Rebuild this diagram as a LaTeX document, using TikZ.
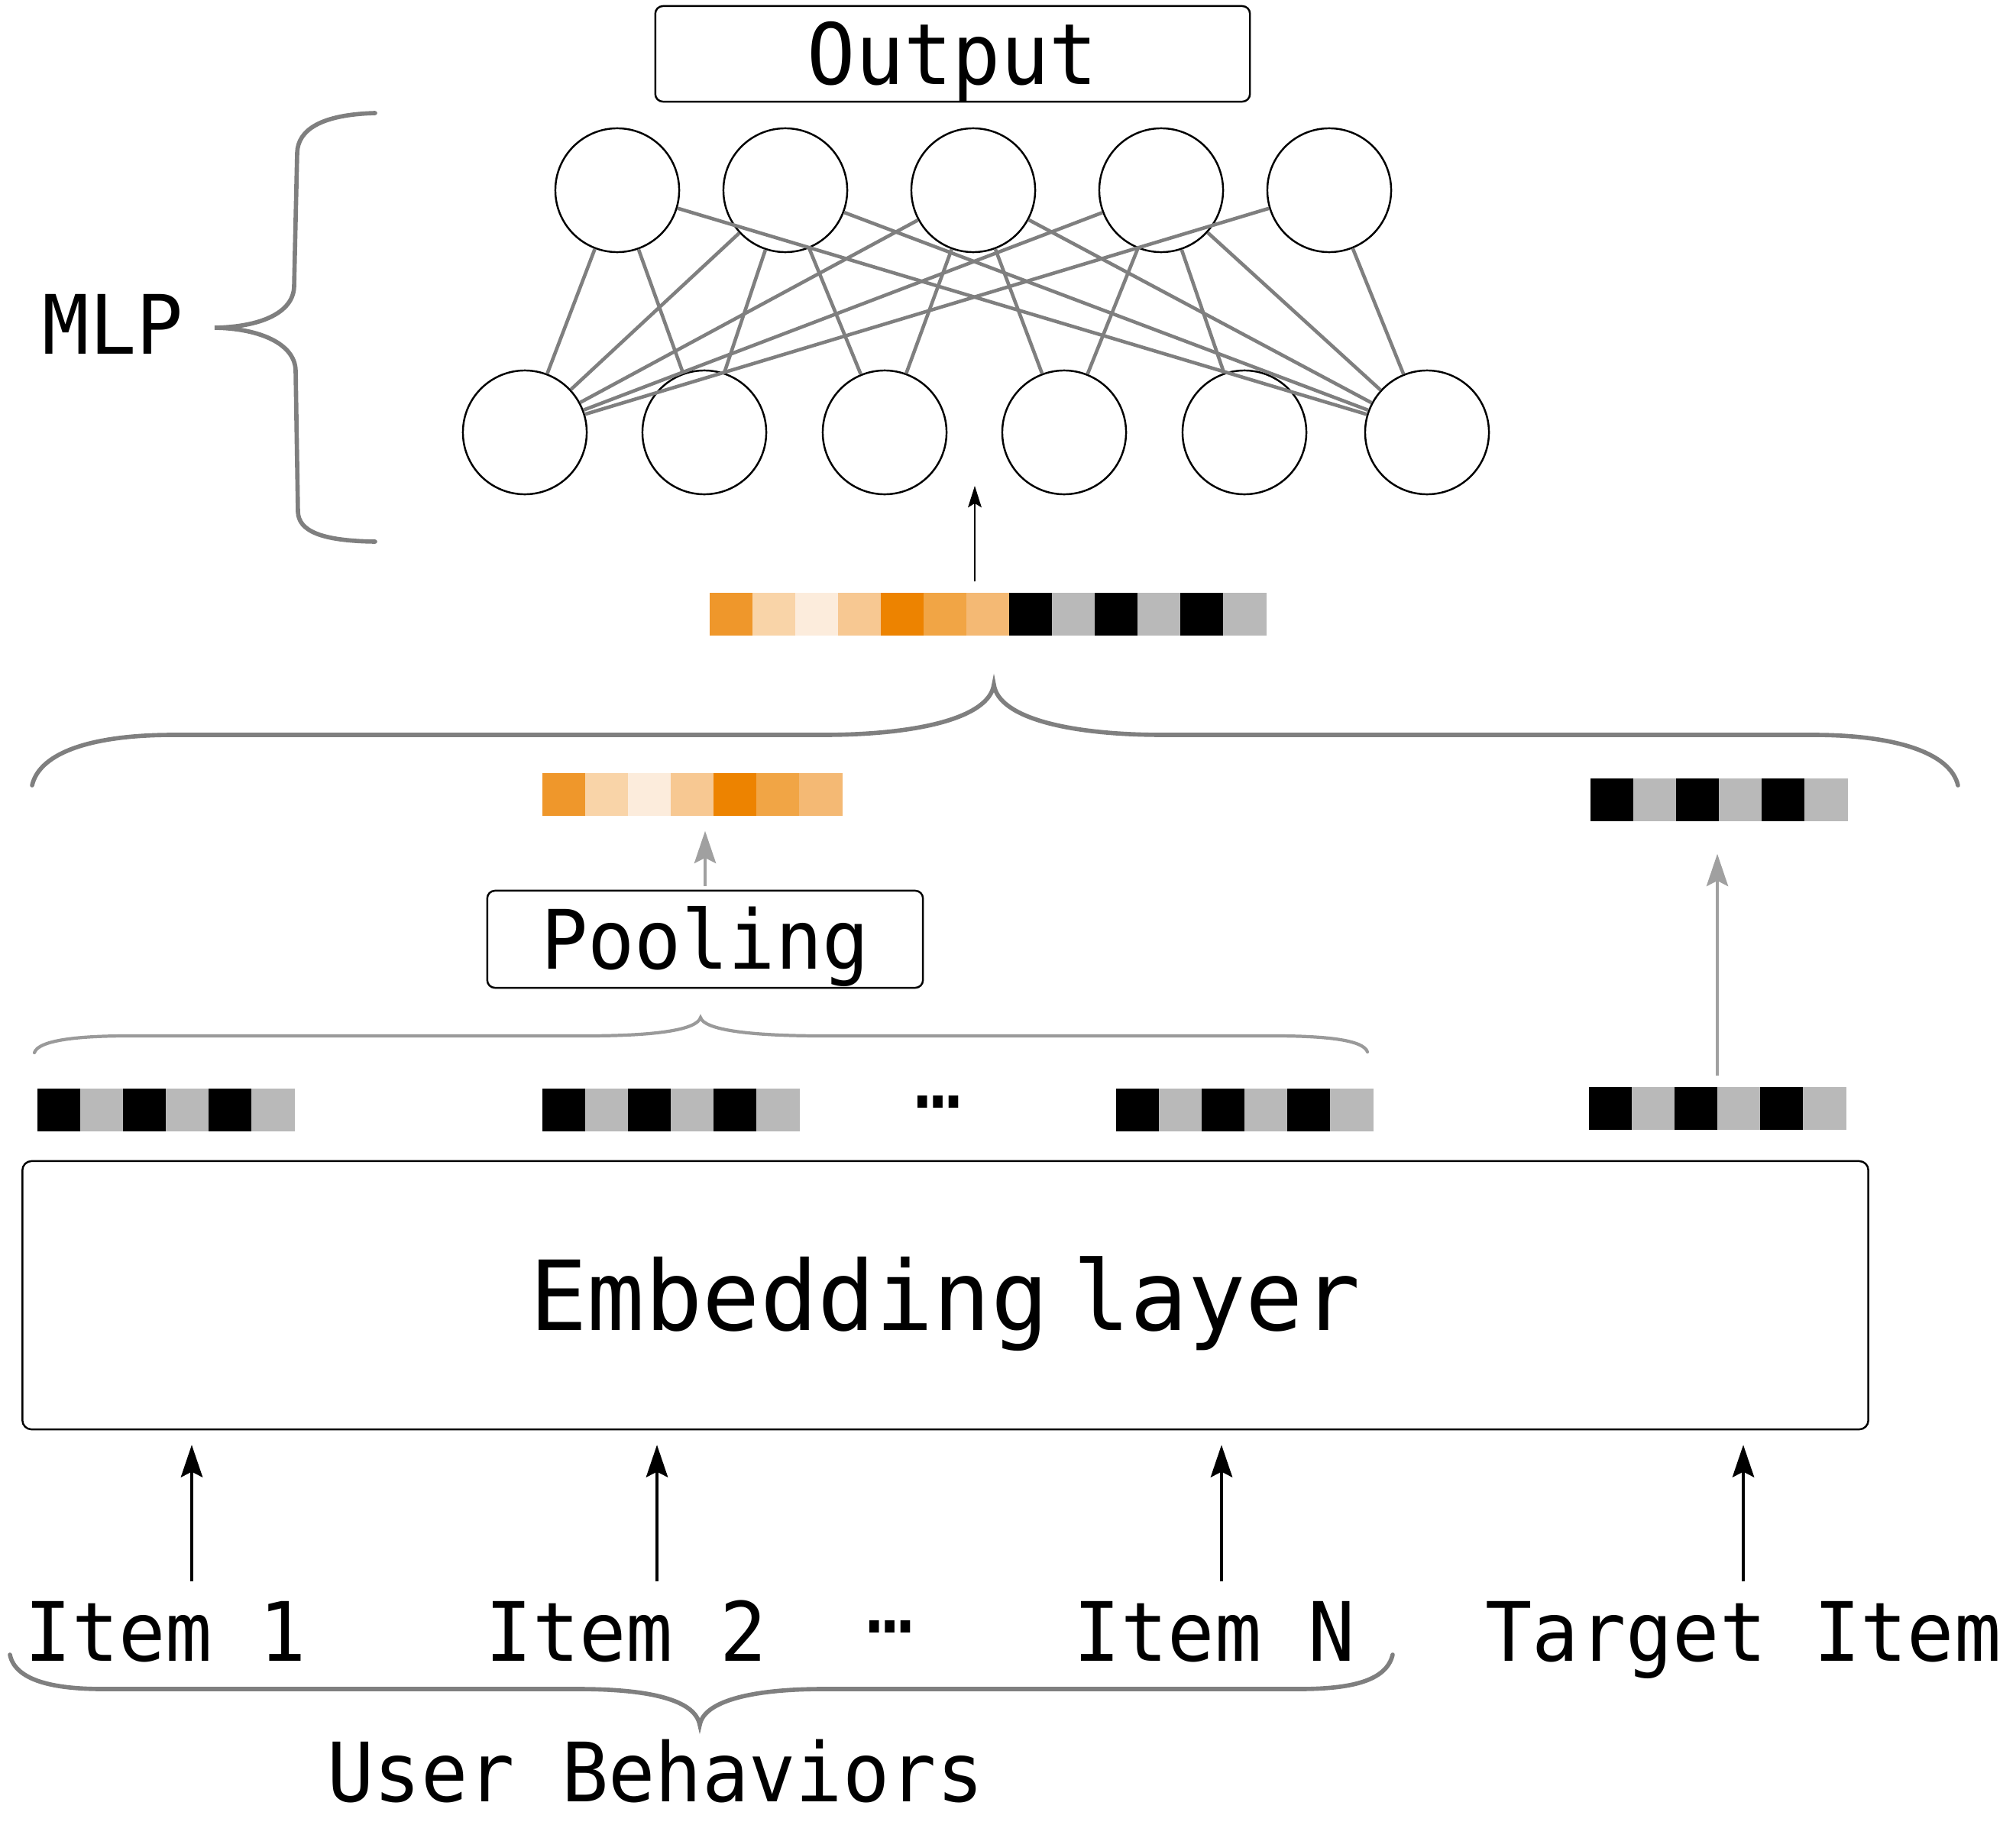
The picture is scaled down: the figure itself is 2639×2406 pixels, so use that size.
\documentclass[tikz,border=0pt]{standalone}
\usepackage{fontspec}
\usetikzlibrary{arrows.meta}
\newfontfamily\dmono[FakeStretch=0.95]{DejaVu Sans Mono}
\newfontfamily\dmonow[FakeStretch=0.99]{DejaVu Sans Mono}
\definecolor{orA}{HTML}{EF972B}
\definecolor{orB}{HTML}{F9D4A8}
\definecolor{orC}{HTML}{FCECDC}
\definecolor{orD}{HTML}{F7C892}
\definecolor{orE}{HTML}{ED8300}
\definecolor{orF}{HTML}{F1A545}
\definecolor{orG}{HTML}{F4B974}
\definecolor{cellg}{HTML}{B9B9B9}
\definecolor{lineg}{HTML}{7F7F7F}
\definecolor{braceL}{HTML}{9A9A9A}
\definecolor{arrowg}{HTML}{A0A0A0}
\newcommand\cellrow[5]{%
  \foreach \c [count=\i from 0] in {#5}{\fill[\c] ({#2+56*\i},#3) rectangle ({#2+56*\i+56.6},#3+56);}
  \node[inner sep=0,minimum width={#4*0.56cm},minimum height=0.56cm] (#1) at ({#2+28*#4},#3+28) {};
}
\begin{document}
\begin{tikzpicture}[x=0.01cm,y=-0.01cm,
  neuron/.style={circle,draw=black,line width=0.7pt,minimum size=1.62cm,inner sep=0},
  conn/.style={draw=lineg,line width=1.3pt},
  lbl/.style={font=\dmono\fontsize{30.5}{36}\selectfont,inner sep=0},
  box/.style={draw=black,line width=0.7pt,rounded corners=0.1cm,inner sep=0,text depth=0pt},
  brace/.style={draw=lineg,line width=1.6pt,line cap=round},
  lbrace/.style={draw=braceL,line width=1.2pt,line cap=round},
  barrow/.style={-{Stealth[length=12pt,width=8pt,inset=2pt]},line width=1.4pt},
  sarrow/.style={-{Stealth[length=8pt,width=5pt,inset=1.5pt]},line width=0.8pt},
  garrow/.style={draw=arrowg,-{Stealth[length=12pt,width=8pt,inset=2pt]},line width=1.2pt},
]
\useasboundingbox (0,0) rectangle (2639,2406);

% Output box
\node[box,font=\dmono\fontsize{31.5}{38}\selectfont,minimum width=7.78cm,minimum height=1.25cm,text height=23pt] (out) at (1247,70.5) {Output};

% MLP neurons
\foreach \n/\x in {t1/808,t2/1028,t3/1274,t4/1520,t5/1740}
  \node[neuron] (\n) at (\x,249) {};
\foreach \n/\x in {b1/687,b2/922,b3/1158,b4/1393,b5/1629,b6/1868}
  \node[neuron] (\n) at (\x,566) {};
\foreach \a/\b in {t1/b1,t2/b1,t3/b1,t4/b1,t5/b1,t1/b6,t2/b6,t3/b6,t4/b6,t5/b6,t1/b2,t2/b2,t2/b3,t3/b3,t3/b4,t4/b4,t4/b5}
  \draw[conn] (\a) -- (\b);

% MLP brace and label
\draw[brace] (491,148) .. controls (420,150) and (390,170) .. (389,200) -- (385,375) .. controls (384,410) and (340,428) .. (281,429) .. controls (340,430) and (386,450) .. (387,485) -- (390,670) .. controls (391,695) and (420,708) .. (491,709);
\node[lbl,anchor=base] (mlp) at (148,463) {MLP};

% concatenated vector
\cellrow{tv}{929}{776}{13}{orA,orB,orC,orD,orE,orF,orG,black,cellg,black,cellg,black,cellg}
\coordinate (mlpin) at (1276,636);
\draw[sarrow,shorten <=0.14cm] (mlpin |- tv.north) -- (mlpin);

% big brace
\draw[brace] (42,1028) .. controls (52,985) and (120,962) .. (227,962) -- (1077,962) .. controls (1200,962) and (1295,940) .. (1301,896) .. controls (1307,940) and (1400,962) .. (1523,962) -- (2373,962) .. controls (2480,962) and (2553,985) .. (2563,1028);

% pooled vector and target vector
\cellrow{pv}{710}{1012}{7}{orA,orB,orC,orD,orE,orF,orG}
\cellrow{vtu}{2082}{1019}{6}{black,cellg,black,cellg,black,cellg}

% pooling box
\node[box,lbl,minimum width=5.70cm,minimum height=1.27cm,text height=22.2pt] (pool) at (923,1229.5) {Pooling};
\draw[garrow,shorten <=0.05cm,shorten >=0.19cm] (pool.north) -- (pool.north |- pv.south);

% lower brace
\draw[lbrace] (45,1378) .. controls (50,1362) and (100,1356) .. (168,1356) -- (766,1356) .. controls (860,1356) and (912,1348) .. (917,1332) .. controls (922,1348) and (980,1356) .. (1077,1356) -- (1667,1356) .. controls (1740,1356) and (1785,1362) .. (1790,1377);

% embedding vectors
\cellrow{v1}{49}{1425}{6}{black,cellg,black,cellg,black,cellg}
\cellrow{v2}{710}{1425}{6}{black,cellg,black,cellg,black,cellg}
\cellrow{v3}{1461}{1425}{6}{black,cellg,black,cellg,black,cellg}
\cellrow{vt}{2080}{1423}{6}{black,cellg,black,cellg,black,cellg}
\node[lbl] (el2) at (1228,1443) {…};
\draw[garrow,shorten <=0.14cm,shorten >=0.42cm] (vt.north) -- (vt.north |- vtu.south);

% embedding layer
\node[box,font=\dmonow\fontsize{36}{42}\selectfont,minimum width=24.15cm,minimum height=3.51cm,text height=26.2pt,rounded corners=0.12cm] (emb) at (1237.5,1695.5) {\spaceskip=0.25em Embedding layer};

% items
\node[lbl,anchor=base] (i1) at (217,2174) {Item 1};
\node[lbl,anchor=base] (i2) at (820,2174) {Item 2};
\node[lbl] (el1) at (1165,2129) {…};
\node[lbl,anchor=base] (iN) at (1590,2174) {Item N};
\node[lbl,anchor=base] (tgt) at (2282,2174) {Target Item};
\foreach \n/\x in {a1/251,a2/860,a3/1599,a4/2282}{
  \coordinate (\n) at (\x,2070);
  \draw[barrow,shorten >=0.19cm] (\n) -- (\n |- emb.south);
}

% bottom brace
\draw[brace] (13,2166) .. controls (20,2200) and (70,2211) .. (135,2211) -- (757,2211) .. controls (850,2211) and (910,2225) .. (916,2258) .. controls (922,2225) and (990,2211) .. (1077,2211) -- (1700,2211) .. controls (1770,2211) and (1815,2200) .. (1823,2166);
\node[lbl,anchor=base] (ub) at (858,2358) {User Behaviors};
\end{tikzpicture}
\end{document}
